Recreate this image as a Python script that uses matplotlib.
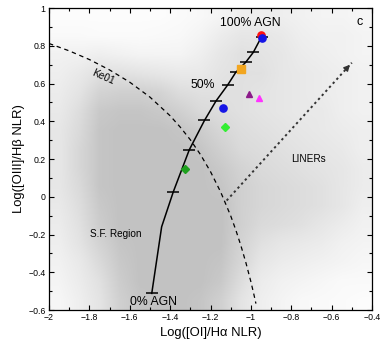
import numpy as np
import matplotlib
matplotlib.use('Agg')
import matplotlib.pyplot as plt
import matplotlib.ticker as ticker
from matplotlib.colors import LinearSegmentedColormap

plt.rcParams['font.family'] = ['Liberation Sans', 'DejaVu Sans']
plt.rcParams['axes.unicode_minus'] = True

# background galaxy cloud, rough density
# columns: x centres -1.95 ... -0.45 (step 0.1), rows: y centres 0.95 ... -0.55
cloud_x_edges = (-2.0, -0.4)
cloud_y_edges = (-0.6, 1.0)
cloud = np.array([
    [0.05, 0.05, 0.05, 0.05, 0.05, 0.05, 0.08, 0.12, 0.20, 0.30, 0.30, 0.30, 0.25, 0.20, 0.20, 0.15],
    [0.10, 0.10, 0.08, 0.08, 0.08, 0.10, 0.12, 0.20, 0.35, 0.45, 0.45, 0.40, 0.30, 0.25, 0.25, 0.20],
    [0.25, 0.25, 0.30, 0.25, 0.20, 0.20, 0.20, 0.30, 0.45, 0.55, 0.50, 0.45, 0.35, 0.30, 0.25, 0.20],
    [0.30, 0.40, 0.55, 0.55, 0.50, 0.45, 0.40, 0.40, 0.50, 0.55, 0.55, 0.45, 0.40, 0.35, 0.30, 0.25],
    [0.35, 0.50, 0.75, 0.80, 0.80, 0.75, 0.60, 0.55, 0.55, 0.55, 0.50, 0.45, 0.40, 0.35, 0.30, 0.25],
    [0.40, 0.60, 0.90, 0.95, 0.95, 0.90, 0.80, 0.65, 0.60, 0.55, 0.50, 0.45, 0.40, 0.40, 0.30, 0.25],
    [0.45, 0.65, 0.95, 1.00, 1.00, 1.00, 0.95, 0.85, 0.70, 0.60, 0.55, 0.50, 0.45, 0.40, 0.35, 0.30],
    [0.45, 0.70, 0.95, 1.00, 1.00, 1.00, 1.00, 0.95, 0.80, 0.65, 0.60, 0.55, 0.50, 0.45, 0.40, 0.30],
    [0.45, 0.70, 0.95, 1.00, 1.00, 1.00, 1.00, 1.00, 0.90, 0.75, 0.65, 0.60, 0.55, 0.50, 0.45, 0.35],
    [0.45, 0.65, 0.95, 1.00, 1.00, 1.00, 1.00, 1.00, 0.95, 0.80, 0.70, 0.65, 0.60, 0.55, 0.45, 0.35],
    [0.40, 0.60, 0.90, 1.00, 1.00, 1.00, 1.00, 1.00, 1.00, 0.80, 0.70, 0.65, 0.60, 0.55, 0.45, 0.30],
    [0.35, 0.55, 0.85, 1.00, 1.00, 1.00, 1.00, 1.00, 1.00, 0.80, 0.65, 0.60, 0.55, 0.45, 0.35, 0.25],
    [0.30, 0.50, 0.75, 0.95, 1.00, 1.00, 1.00, 1.00, 1.00, 0.75, 0.55, 0.45, 0.40, 0.35, 0.25, 0.20],
    [0.25, 0.40, 0.65, 0.90, 1.00, 1.00, 1.00, 1.00, 0.95, 0.70, 0.45, 0.35, 0.30, 0.25, 0.20, 0.15],
    [0.20, 0.35, 0.55, 0.85, 1.00, 1.00, 1.00, 1.00, 0.90, 0.60, 0.35, 0.25, 0.20, 0.15, 0.10, 0.10],
    [0.15, 0.30, 0.50, 0.80, 0.95, 1.00, 1.00, 0.95, 0.80, 0.50, 0.30, 0.20, 0.12, 0.10, 0.08, 0.05],
])

# Ke01 maximum starburst line
ke_x = [-2.0, -1.9, -1.8, -1.7, -1.6, -1.5, -1.4, -1.35, -1.3, -1.25, -1.2, -1.15,
        -1.1, -1.075, -1.05, -1.025, -1.0, -0.985, -0.975]
ke_y = [0.812, 0.773, 0.727, 0.672, 0.607, 0.528, 0.429, 0.369, 0.302, 0.224, 0.133, 0.026,
        -0.101, -0.175, -0.257, -0.348, -0.450, -0.518, -0.566]

# Seyfert / LINER division (dotted arrow)
liner_x = [-1.12, -0.5]
liner_y = [-0.02, 0.71]

# AGN mixing sequence, 0% -> 100%
mix_x = [-1.491, -1.442, -1.384, -1.305, -1.230, -1.173, -1.115, -1.075, -1.026, -0.988, -0.947]
mix_y = [-0.512, -0.159, 0.027, 0.249, 0.404, 0.507, 0.592, 0.659, 0.712, 0.765, 0.848]
mix_tick_x = [-1.491, -1.384, -1.305, -1.230, -1.173, -1.115, -1.075, -1.026, -0.988, -0.947]
mix_tick_y = [-0.512, 0.027, 0.249, 0.404, 0.507, 0.592, 0.659, 0.712, 0.765, 0.848]

# individual objects
obj_x = [-0.949, -0.947, -1.051, -1.008, -0.958, -1.138, -1.127, -1.326]
obj_y = [0.856, 0.840, 0.677, 0.544, 0.525, 0.472, 0.371, 0.145]
obj_marker = ['o', 'o', 's', '^', '^', 'o', 'D', 'D']
obj_color = ['#ff1010', '#1515e6', '#f2a620', '#8c1a8a', '#ff33ff', '#1515e6', '#33ee33', '#1ea01e']
obj_size = [5.2, 5.2, 5.2, 5, 5, 5.2, 4, 4]

fig = plt.figure(figsize=(3.81, 3.51), dpi=100)
ax = fig.add_axes([0.1286, 0.1168, 0.8478, 0.8604])

cmap = LinearSegmentedColormap.from_list(
    'cloud', [(0, '#ffffff'), (0.5, '#e4e4e4'), (0.85, '#cdcdcd'), (1, '#c2c2c2')])
ax.imshow(cloud, extent=(*cloud_x_edges, *cloud_y_edges), origin='upper',
          cmap=cmap, vmin=0, vmax=1, interpolation='bilinear', aspect='auto', zorder=0)

ax.plot(ke_x, ke_y, color='k', lw=0.9, dashes=(3.5, 3), zorder=2)
ax.plot(liner_x, liner_y, color='#333333', lw=1.4, dashes=(1.2, 1.6), zorder=2)
ax.annotate('', xy=(liner_x[1], liner_y[1]), xytext=(-0.53, 0.675),
            arrowprops=dict(arrowstyle='-|>,head_length=0.35,head_width=0.18',
                            color='#333333', lw=1), zorder=2)

ax.plot(mix_x, mix_y, color='k', lw=1.1, zorder=3)
ax.plot(mix_tick_x, mix_tick_y, ls='none', marker='_', ms=9, mew=1.1, color='k', zorder=3)

for x, y, m, c, s in zip(obj_x, obj_y, obj_marker, obj_color, obj_size):
    ax.plot(x, y, ls='none', marker=m, ms=s, color=c, mec=c, zorder=4)

ax.text(-1.003, 0.919, '100% AGN', fontsize=8.8, ha='center', va='center')
ax.text(-1.239, 0.590, '50%', fontsize=8.8, ha='center', va='center')
ax.text(-1.483, -0.556, '0% AGN', fontsize=8.8, ha='center', va='center')
ax.text(-0.463, 0.927, 'c', fontsize=9, ha='center', va='center')
ax.text(-1.731, 0.636, 'Ke01', fontsize=7.3, ha='center', va='center', rotation=-24)
ax.text(-0.716, 0.200, 'LINERs', fontsize=7.2, ha='center', va='center')
ax.text(-1.668, -0.199, 'S.F. Region', fontsize=7.2, ha='center', va='center')

ax.set_xlim(-2, -0.4)
ax.set_ylim(-0.6, 1)

def fmt(v, pos):
    v = round(v, 2)
    if v == 0:
        return '0'
    return f'{v:g}'.replace('-', '\u2212')

ax.xaxis.set_major_locator(ticker.MultipleLocator(0.2))
ax.xaxis.set_minor_locator(ticker.MultipleLocator(0.1))
ax.yaxis.set_major_locator(ticker.MultipleLocator(0.2))
ax.yaxis.set_minor_locator(ticker.MultipleLocator(0.1))
ax.xaxis.set_major_formatter(ticker.FuncFormatter(fmt))
ax.yaxis.set_major_formatter(ticker.FuncFormatter(fmt))
ax.tick_params(which='both', direction='in', top=True, right=True, width=0.8, labelsize=6.3)
ax.tick_params(which='major', length=3.5, pad=2.5)
ax.tick_params(which='minor', length=2.5)
for s in ax.spines.values():
    s.set_linewidth(0.9)

ax.set_xlabel('Log([OI]/H\u03b1 NLR)', fontsize=9.4, labelpad=3)
ax.set_ylabel('Log([OIII]/H\u03b2 NLR)', fontsize=9.4, labelpad=2)

fig.savefig('out.png', dpi=100)
